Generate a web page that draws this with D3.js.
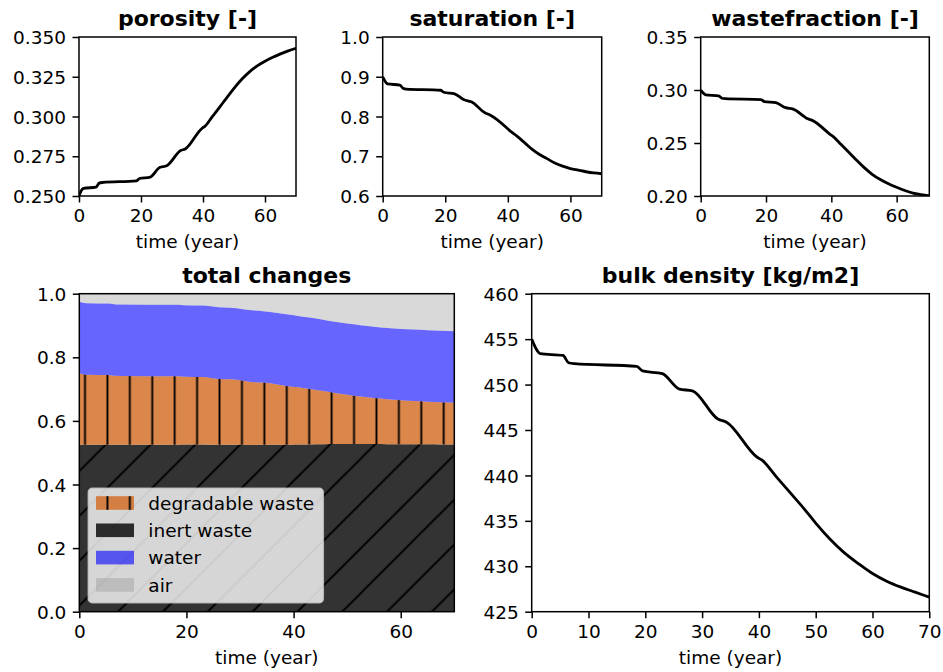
<!DOCTYPE html>
<html>
<head>
<meta charset="utf-8">
<script src="https://cdn.jsdelivr.net/npm/d3@7"></script>
<style>
  body { margin: 0; background: #fff; }
  svg text { font-family: "DejaVu Sans", sans-serif; fill: #000; }
</style>
</head>
<body>
<svg id="fig" width="943" height="672"></svg>
<script>
// ---- simulation output (sampled time steps) ----
const time = [0, 1, 1.5, 5.5, 6.5, 7.5, 18.5, 19.5, 23, 26, 28.3, 32.8, 34.3, 39.7, 40.5,
              43, 45.5, 48, 50, 52.5, 55, 57.5, 60, 62.5, 65, 67.5, 70];

const porosity = [0.2500, 0.2542, 0.2548, 0.2556, 0.2581, 0.2585, 0.2595, 0.2610, 0.2619,
                  0.2679, 0.2690, 0.2786, 0.2796, 0.2926, 0.2936, 0.2999, 0.3062, 0.3127,
                  0.3177, 0.3234, 0.3281, 0.3318, 0.3347, 0.3372, 0.3394, 0.3413, 0.3429];

const saturation = [0.900, 0.886, 0.882, 0.879, 0.871, 0.869, 0.866, 0.861, 0.857, 0.842,
                    0.837, 0.809, 0.804, 0.771, 0.765, 0.750, 0.733, 0.716, 0.705, 0.694,
                    0.683, 0.675, 0.669, 0.665, 0.661, 0.658, 0.656];

const wastefraction = [0.3000, 0.2965, 0.2955, 0.2945, 0.2922, 0.2918, 0.2910, 0.2890, 0.2880,
                       0.2833, 0.2820, 0.2728, 0.2711, 0.2580, 0.2562, 0.2485, 0.2408, 0.2330,
                       0.2270, 0.2205, 0.2155, 0.2115, 0.2082, 0.2052, 0.2028, 0.2013, 0.2001];

const bulkDensity = [455.0, 453.7, 453.4, 453.2, 452.4, 452.3, 452.0, 451.5, 451.2, 449.5,
                     449.3, 446.2, 445.85, 442.0, 441.7, 439.9, 438.1, 436.3, 434.75, 433.0,
                     431.5, 430.3, 429.2, 428.35, 427.7, 427.15, 426.6];

// ---- axis ticks ----
const timeTicks = [0, 20, 40, 60];
const bulkTimeTicks = [0, 10, 20, 30, 40, 50, 60, 70];
const porosityTicks = [0.250, 0.275, 0.300, 0.325, 0.350];
const saturationTicks = [0.6, 0.7, 0.8, 0.9, 1.0];
const wastefractionTicks = [0.20, 0.25, 0.30, 0.35];
const fractionTicks = [0.0, 0.2, 0.4, 0.6, 0.8, 1.0];
const bulkTicks = [425, 430, 435, 440, 445, 450, 455, 460];

const layerKeys = ["inert", "degradable", "water", "air"];
const legendLabels = ["degradable waste", "inert waste", "water", "air"];

// ---- styling ----
const TICK_FS = 18.5, TITLE_FS = 22, TICK_LEN = 6.5, TICK_PAD = 6.5;
const LINE_W = 2.8, SPINE_W = 1.5;
const layerStyle = {
  degradable: { fill: "rgb(210,105,30)", opacity: 0.8, hatch: "url(#hatchV)" },
  inert:      { fill: "#000000",         opacity: 0.8, hatch: "url(#hatchD)" },
  water:      { fill: "#0000ff",         opacity: 0.6 },
  air:        { fill: "#808080",         opacity: 0.3 }
};

const svg = d3.select("#fig");
const defs = svg.append("defs");

// vertical hatch for the degradable fraction
const HV = 22.42;
defs.append("pattern")
  .attr("id", "hatchV").attr("patternUnits", "userSpaceOnUse")
  .attr("x", 85 - HV / 2).attr("y", 0).attr("width", HV).attr("height", 40)
  .append("line")
  .attr("x1", HV / 2).attr("x2", HV / 2).attr("y1", -1).attr("y2", 41)
  .attr("stroke", "#000").attr("stroke-width", 1.9);

// diagonal hatch for the inert fraction
const HD = 44.84;
const pd = defs.append("pattern")
  .attr("id", "hatchD").attr("patternUnits", "userSpaceOnUse")
  .attr("x", 0).attr("y", 0).attr("width", HD).attr("height", HD);
const phase = 640 % HD;
[-1, 0, 1].forEach(k => {
  const c = phase + k * HD;
  pd.append("line")
    .attr("x1", c + 2).attr("y1", -2).attr("x2", -2).attr("y2", c + 2)
    .attr("stroke", "#000").attr("stroke-width", 1.9);
});

let clipId = 0;
function panel(box, yDomain, xTicks, yTicks, yFormat, title) {
  const x = d3.scaleLinear().domain([0, 70]).range([box.x0, box.x1]);
  const y = d3.scaleLinear().domain(yDomain).range([box.y1, box.y0]);
  const g = svg.append("g");
  const id = "clip" + (clipId++);
  defs.append("clipPath").attr("id", id).append("rect")
    .attr("x", box.x0).attr("y", box.y0)
    .attr("width", box.x1 - box.x0).attr("height", box.y1 - box.y0);
  const plot = g.append("g").attr("clip-path", `url(#${id})`);

  const xa = g.append("g").attr("transform", `translate(0,${box.y1})`)
    .call(d3.axisBottom(x).tickValues(xTicks).tickSize(TICK_LEN).tickPadding(TICK_PAD)
      .tickFormat(d3.format("d")));
  const ya = g.append("g").attr("transform", `translate(${box.x0},0)`)
    .call(d3.axisLeft(y).tickValues(yTicks).tickSize(TICK_LEN).tickPadding(TICK_PAD)
      .tickFormat(d3.format(yFormat)));
  [xa, ya].forEach(a => {
    a.select(".domain").remove();
    a.selectAll(".tick line").attr("stroke", "#000").attr("stroke-width", SPINE_W);
    a.selectAll(".tick text").attr("font-size", TICK_FS).attr("font-family", "DejaVu Sans");
  });
  ya.selectAll(".tick text").attr("dy", "0.36em");

  g.append("text")
    .attr("x", (box.x0 + box.x1) / 2).attr("y", box.y1 + 52)
    .attr("text-anchor", "middle").attr("font-size", TICK_FS)
    .text("time (year)");
  g.append("text")
    .attr("x", (box.x0 + box.x1) / 2).attr("y", box.y0 - 11.2)
    .attr("text-anchor", "middle").attr("font-size", TITLE_FS).attr("font-weight", "bold")
    .text(title);

  const frame = () => g.append("rect")
    .attr("x", box.x0).attr("y", box.y0)
    .attr("width", box.x1 - box.x0).attr("height", box.y1 - box.y0)
    .attr("fill", "none").attr("stroke", "#000").attr("stroke-width", SPINE_W);
  return { x, y, g, plot, frame };
}

function linePanel(box, values, yDomain, xTicks, yTicks, yFormat, title) {
  const p = panel(box, yDomain, xTicks, yTicks, yFormat, title);
  const line = d3.line().x((d, i) => p.x(time[i])).y(d => p.y(d)).curve(d3.curveMonotoneX);
  p.plot.append("path").datum(values)
    .attr("d", line).attr("fill", "none")
    .attr("stroke", "#000").attr("stroke-width", LINE_W).attr("stroke-linejoin", "round");
  p.frame();
}

linePanel({ x0: 79, x1: 296, y0: 37, y1: 196 }, porosity, [0.25, 0.35],
  timeTicks, porosityTicks, ".3f", "porosity [-]");
linePanel({ x0: 382.7, x1: 601.7, y0: 37, y1: 196 }, saturation, [0.6, 1.0],
  timeTicks, saturationTicks, ".1f", "saturation [-]");
linePanel({ x0: 700.7, x1: 929.3, y0: 37, y1: 196 }, wastefraction, [0.20, 0.35],
  timeTicks, wastefractionTicks, ".2f", "wastefraction [-]");
linePanel({ x0: 531.7, x1: 929.3, y0: 293.7, y1: 611.7 }, bulkDensity, [425, 460],
  bulkTimeTicks, bulkTicks, "d", "bulk density [kg/m2]");

// ---- volume fractions: solids split into inert/degradable, pores into water/air ----
const layers = time.map((t, i) => {
  const p = porosity[i], s = saturation[i], w = wastefraction[i];
  return {
    t,
    inert: (1 - p) * (1 - w),
    degradable: (1 - p) * w,
    water: p * s,
    air: p * (1 - s)
  };
});
const stacked = d3.stack().keys(layerKeys)(layers);

const tc = panel({ x0: 79.3, x1: 454.3, y0: 293.7, y1: 611.7 }, [0, 1],
  timeTicks, fractionTicks, ".1f", "total changes");
const area = d3.area()
  .x(d => tc.x(d.data.t)).y0(d => tc.y(d[0])).y1(d => tc.y(d[1]))
  .curve(d3.curveMonotoneX);
stacked.forEach(s => {
  const st = layerStyle[s.key];
  tc.plot.append("path").datum(s).attr("d", area)
    .attr("fill", st.fill).attr("fill-opacity", st.opacity);
  if (st.hatch) {
    tc.plot.append("path").datum(s).attr("d", area).attr("fill", st.hatch);
  }
});

// legend
const lg = tc.g.append("g");
lg.append("rect")
  .attr("x", 88.3).attr("y", 488.3).attr("width", 235).attr("height", 114.4)
  .attr("rx", 4).attr("ry", 4)
  .attr("fill", "#fff").attr("fill-opacity", 0.8)
  .attr("stroke", "#cccccc").attr("stroke-opacity", 0.8).attr("stroke-width", 1.5);
const legendKeys = ["degradable", "inert", "water", "air"];
legendKeys.forEach((k, i) => {
  const yc = 503 + i * 27.3;
  const st = layerStyle[k];
  lg.append("rect").attr("x", 96).attr("y", yc - 6.8).attr("width", 38).attr("height", 13.6)
    .attr("fill", st.fill).attr("fill-opacity", st.opacity);
  if (k === "degradable") {
    lg.append("rect").attr("x", 96).attr("y", yc - 6.8).attr("width", 38).attr("height", 13.6)
      .attr("fill", st.hatch);
  }
  lg.append("text").attr("x", 148.3).attr("y", yc).attr("dy", "0.36em")
    .attr("font-size", TICK_FS).text(legendLabels[i]);
});
tc.frame();
</script>
</body>
</html>
